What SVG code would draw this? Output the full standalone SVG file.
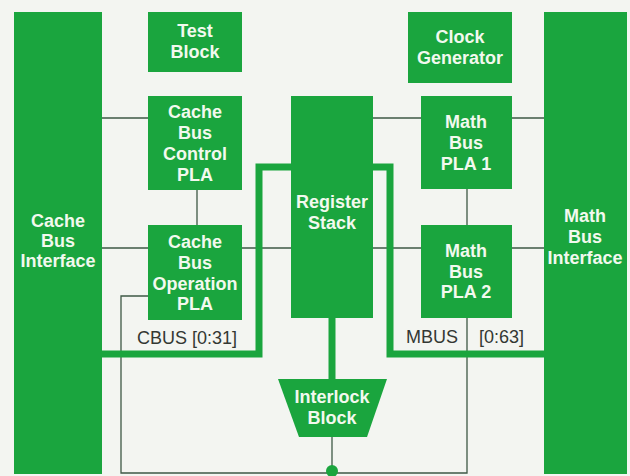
<svg xmlns="http://www.w3.org/2000/svg" width="630" height="476" viewBox="0 0 630 476">
<style>
.blk{fill:#1aa53e}
.t{font-family:"Liberation Sans",Arial,sans-serif;font-weight:bold;font-size:18px;fill:#f2f9ee;text-anchor:middle}
.lbl{font-family:"Liberation Sans",Arial,sans-serif;font-size:18px;fill:#333833}
.thin{stroke:#3e5846;stroke-width:1.3;fill:none}
.bus{stroke:#1aa53e;stroke-width:7;fill:none}
</style>
<rect width="630" height="476" fill="#f3f5f1"/>
<g id="connectors">
<path class="thin" d="M102 118H148M197 190V225M102 248H148M242 248H291M373 118H421M467 189V225M512 118H544M373 248H421M512 248H544"/>
<path class="thin" d="M148 296H121V473H467V318"/>
<path class="thin" d="M332 437V472"/>
<path class="bus" d="M102 354H259V167H291"/>
<path class="bus" d="M373 167H390V354H544"/>
<path class="bus" d="M332 318V379"/>
<circle cx="332" cy="471" r="6" fill="#1aa53e"/>
</g>
<g id="cache-bus-interface"><rect class="blk" x="14" y="12" width="88" height="462"/>
<text class="t"><tspan x="58" y="227">Cache</tspan><tspan x="58" y="247">Bus</tspan><tspan x="58" y="267">Interface</tspan></text></g>
<g id="test-block"><rect class="blk" x="148" y="12" width="94" height="60"/>
<text class="t"><tspan x="195" y="37">Test</tspan><tspan x="195" y="58">Block</tspan></text></g>
<g id="cache-bus-control-pla"><rect class="blk" x="148" y="96" width="94" height="94"/>
<text class="t"><tspan x="195" y="118">Cache</tspan><tspan x="195" y="139">Bus</tspan><tspan x="195" y="160">Control</tspan><tspan x="195" y="181">PLA</tspan></text></g>
<g id="cache-bus-operation-pla"><rect class="blk" x="148" y="225" width="94" height="95"/>
<text class="t"><tspan x="195" y="248">Cache</tspan><tspan x="195" y="269">Bus</tspan><tspan x="195" y="290">Operation</tspan><tspan x="195" y="310">PLA</tspan></text></g>
<g id="register-stack"><rect class="blk" x="291" y="96" width="82" height="222"/>
<text class="t"><tspan x="332" y="208">Register</tspan><tspan x="332" y="229">Stack</tspan></text></g>
<g id="clock-generator"><rect class="blk" x="408" y="12" width="104" height="71"/>
<text class="t"><tspan x="460" y="43">Clock</tspan><tspan x="460" y="64">Generator</tspan></text></g>
<g id="math-bus-pla-1"><rect class="blk" x="421" y="96" width="91" height="93"/>
<text class="t"><tspan x="466" y="128">Math</tspan><tspan x="466" y="149">Bus</tspan><tspan x="466" y="170">PLA 1</tspan></text></g>
<g id="math-bus-pla-2"><rect class="blk" x="421" y="225" width="91" height="93"/>
<text class="t"><tspan x="466" y="257">Math</tspan><tspan x="466" y="278">Bus</tspan><tspan x="466" y="298">PLA 2</tspan></text></g>
<g id="math-bus-interface"><rect class="blk" x="544" y="12" width="83" height="462"/>
<text class="t"><tspan x="585" y="222">Math</tspan><tspan x="585" y="243">Bus</tspan><tspan x="585" y="264">Interface</tspan></text></g>
<g id="interlock-block"><polygon class="blk" points="278,379 387,379 367,437 299,437"/>
<text class="t"><tspan x="332" y="403">Interlock</tspan><tspan x="332" y="424">Block</tspan></text></g>
<g id="labels">
<text class="lbl" x="137" y="344">CBUS [0:31]</text>
<text class="lbl" x="406" y="343">MBUS</text>
<text class="lbl" x="479" y="343">[0:63]</text>
</g>
</svg>
